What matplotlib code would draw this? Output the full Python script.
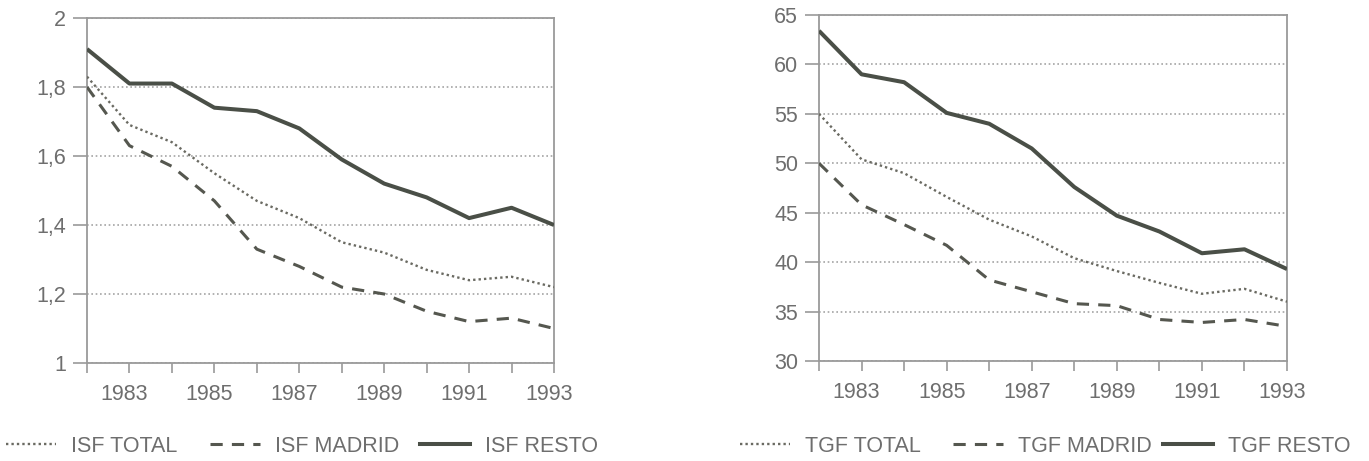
import numpy as np
import matplotlib
matplotlib.use("Agg")
import matplotlib.pyplot as plt
from matplotlib.lines import Line2D
from matplotlib.ticker import FixedLocator, FuncFormatter
import matplotlib.transforms as mtransforms

plt.rcParams['font.family'] = ['Liberation Sans', 'DejaVu Sans']

# Data
years = list(range(1982, 1994))
year_labels = [1983, 1985, 1987, 1989, 1991, 1993]

isf_total = [1.83, 1.69, 1.64, 1.55, 1.47, 1.42, 1.35, 1.32, 1.27, 1.24, 1.25, 1.22]
isf_madrid = [1.80, 1.63, 1.57, 1.47, 1.33, 1.28, 1.22, 1.20, 1.15, 1.12, 1.13, 1.10]
isf_resto = [1.91, 1.81, 1.81, 1.74, 1.73, 1.68, 1.59, 1.52, 1.48, 1.42, 1.45, 1.40]

tgf_total = [55.0, 50.4, 49.0, 46.6, 44.3, 42.6, 40.4, 39.1, 37.9, 36.8, 37.3, 36.0]
tgf_madrid = [50.0, 45.8, 43.8, 41.7, 38.2, 37.0, 35.8, 35.6, 34.2, 33.9, 34.2, 33.5]
tgf_resto = [63.4, 59.0, 58.2, 55.1, 54.0, 51.5, 47.6, 44.7, 43.1, 40.9, 41.3, 39.3]

isf_names = ['ISF TOTAL', 'ISF MADRID', 'ISF RESTO']
tgf_names = ['TGF TOTAL', 'TGF MADRID', 'TGF RESTO']

W, H = 1369, 461
fig = plt.figure(figsize=(W / 100, H / 100), dpi=100)
fig.patch.set_facecolor('white')

GRAY = '#9a9a9a'
TXT = '#6e6e6e'
FS = 15.5

styles = [
    dict(color='#6a6a62', lw=1.7, ls=(0, (1, 1.3))),
    dict(color='#55574f', lw=2.2, ls=(0, (4, 3))),
    dict(color='#4a4f47', lw=2.9, ls='-'),
]


def px_axes(x0, y0, x1, y1):
    return fig.add_axes([x0 / W, 1 - y1 / H, (x1 - x0) / W, (y1 - y0) / H])


def setup(ax, series, ylim, yticks, fmt):
    for vals, st in zip(series, styles):
        ax.plot(years, vals, color=st['color'], lw=st['lw'], ls=st['ls'],
                solid_capstyle='butt', dash_capstyle='butt', zorder=3)
    ax.set_xlim(years[0], years[-1])
    ax.set_ylim(*ylim)
    ax.xaxis.set_major_locator(FixedLocator(year_labels))
    ax.xaxis.set_minor_locator(FixedLocator(years))
    ax.set_xticklabels([str(y) for y in year_labels])
    ax.yaxis.set_major_locator(FixedLocator(yticks))
    ax.yaxis.set_major_formatter(FuncFormatter(fmt))
    ax.tick_params(axis='x', which='both', direction='out', length=7,
                   width=1.2, color=GRAY, labelsize=FS, labelcolor=TXT, pad=8)
    ax.tick_params(axis='y', direction='out', length=10, width=1.2,
                   color=GRAY, labelsize=FS, labelcolor=TXT, pad=5)
    for s in ax.spines.values():
        s.set_color(GRAY)
        s.set_linewidth(1.3)
    ax.set_axisbelow(True)
    ax.yaxis.grid(True, color='#a4a4a4', lw=1.2, ls=(0, (1, 1.6)))
    off = mtransforms.ScaledTranslation(-5 / 100, 0, fig.dpi_scale_trans)
    for lab in ax.get_xticklabels():
        lab.set_transform(lab.get_transform() + off)


def legend_entry(x, y, st, name):
    h = Line2D([], [], color=st['color'], lw=st['lw'], ls=st['ls'])
    fig.legend(handles=[h], labels=[name], loc='center left',
               bbox_to_anchor=(x / W, 1 - y / H), frameon=False,
               borderaxespad=0, borderpad=0, handlelength=2.3,
               handletextpad=0.7, prop={'size': FS}, labelcolor=TXT)


ax1 = px_axes(87, 18, 554, 363)
setup(ax1, [isf_total, isf_madrid, isf_resto], (1, 2),
      [1, 1.2, 1.4, 1.6, 1.8, 2],
      lambda v, p: '{:g}'.format(round(v, 1)).replace('.', ','))

ax2 = px_axes(819, 15, 1287, 361)
setup(ax2, [tgf_total, tgf_madrid, tgf_resto], (30, 65),
      [30, 35, 40, 45, 50, 55, 60, 65],
      lambda v, p: '{:g}'.format(v))

for x, st, name in zip([6, 210, 420], styles, isf_names):
    legend_entry(x, 446, st, name)
for x, st, name in zip([740, 953, 1163], styles, tgf_names):
    legend_entry(x, 446, st, name)

fig.savefig('out.png', dpi=100, facecolor='white')
